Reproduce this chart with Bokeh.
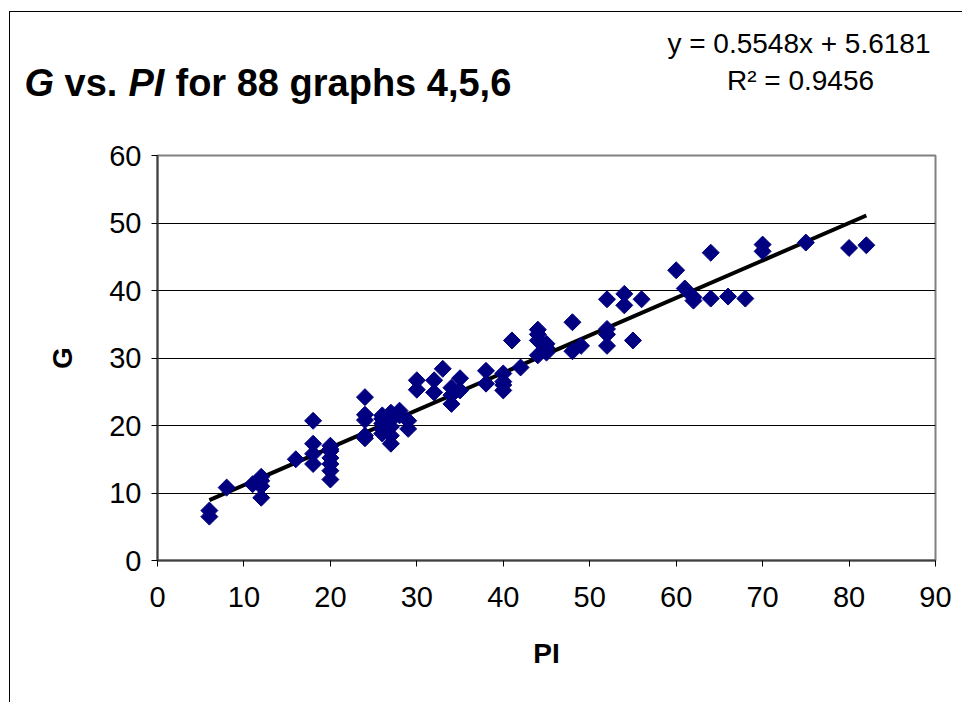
from bokeh.plotting import figure
from bokeh.models import Range1d, FixedTicker, ColumnDataSource
from bokeh.layouts import column, row
from bokeh.core.properties import value
from bokeh.embed import file_html
from bokeh.resources import INLINE
import numpy as np

# ---- data ----
pi_vals = [6, 6, 8, 11, 12, 12, 12, 12, 16,
           18, 18, 18, 18,
           20, 20, 20, 20, 20, 20, 20,
           24, 24, 24, 24, 24,
           26, 26, 26, 26, 26,
           27, 27, 27, 27, 27,
           28, 28, 29, 29,
           30, 30, 32, 32, 33, 34, 34, 34, 35, 35,
           38, 38, 40, 40, 40, 40, 41, 42,
           44, 44, 44, 44, 45, 45, 45,
           48, 48, 49,
           52, 52, 52, 52, 54, 54, 55, 56,
           60, 61, 62, 62, 64, 64, 66, 68,
           70, 70, 75, 80, 82]
g_vals = [7.4, 6.5, 10.8, 11.3, 12.4, 11.8, 11.0, 9.3, 15.0,
          20.7, 17.3, 15.8, 14.3,
          17.0, 16.5, 16.2, 15.2, 14.3, 13.3, 12.0,
          24.2, 21.6, 20.8, 18.5, 18.1,
          21.5, 21.0, 20.3, 19.5, 18.8,
          21.9, 20.8, 19.8, 18.5, 17.3,
          22.2, 21.5, 20.7, 19.5,
          26.7, 25.3, 26.7, 24.9, 28.4, 25.6, 24.5, 23.2, 27.0, 25.2,
          28.1, 26.2, 27.7, 26.5, 26.0, 25.2, 32.6, 28.6,
          34.2, 33.5, 32.6, 30.4, 32.1, 31.5, 30.8,
          35.3, 31.0, 31.8,
          38.7, 34.3, 33.5, 31.8, 39.5, 37.8, 32.6, 38.7,
          43.0, 40.3, 38.5, 39.0, 45.6, 38.8, 39.1, 38.8,
          46.8, 45.8, 47.1, 46.3, 46.7]
slope = 0.5548
intercept = 5.6181
r_squared = 0.9456
title_parts = ["G", "vs.", "PI", "for 88 graphs 4,5,6"]
x_ticks = [0, 10, 20, 30, 40, 50, 60, 70, 80, 90]
y_ticks = [0, 10, 20, 30, 40, 50, 60]

FONT = "Liberation Sans"

# page origin of the chart block is (10, 12)
OX, OY = 10, 12
W = 952
HH = 120           # header height (title + equation)
H = 690 - HH       # plot figure height

# ---------- header with title and regression text ----------
hdr = figure(width=W, height=HH, output_backend="svg", toolbar_location=None,
             x_range=Range1d(OX, OX + W), y_range=Range1d(OY + HH, OY),
             x_axis_type=None, y_axis_type=None)
hdr.min_border_left = 0
hdr.min_border_right = 0
hdr.min_border_top = 0
hdr.min_border_bottom = 0
hdr.outline_line_color = None
hdr.grid.visible = False
hdr.background_fill_color = "white"
hdr.border_fill_color = "white"

def htext(txt, px, py, size, style="normal", align="left"):
    hdr.text(x=[px], y=[py], text=[txt], text_font=value(FONT),
             text_font_style=style, text_font_size=size, text_baseline="middle",
             text_align=align, text_color="black")

title_x = [24, 64, 128, 175]
title_style = ["bold italic", "bold", "bold italic", "bold"]
for txt, px, st in zip(title_parts, title_x, title_style):
    htext(txt, px, 82, "38px", st)

eq = f"y = {slope}x + {intercept}"
r2 = f"R\u00b2 = {r_squared}"
htext(eq, 930, 43, "28px", align="right")
htext(r2, 800, 80, "28px", align="center")

# ---------- main scatter plot ----------
top = OY + HH
p = figure(width=W, height=H, output_backend="svg", toolbar_location=None,
           x_range=Range1d(0, 90), y_range=Range1d(0, 60))
p.min_border_left = 157 - OX
p.min_border_top = 155 - top
p.min_border_right = W - (935 - OX)
p.min_border_bottom = (top + H) - 560

p.outline_line_color = "#808080"
p.outline_line_width = 2
p.background_fill_color = "white"
p.border_fill_color = "white"

p.xgrid.visible = False
p.ygrid.ticker = FixedTicker(ticks=y_ticks[1:-1])
p.ygrid.grid_line_color = "black"
p.ygrid.grid_line_width = 1

for ax in (p.xaxis[0], p.yaxis[0]):
    ax.axis_line_color = "#404040"
    ax.axis_line_width = 2
    ax.major_tick_line_color = "black"
    ax.major_tick_in = 0
    ax.major_tick_out = 6
    ax.minor_tick_line_color = None
    ax.major_label_text_font = FONT
    ax.major_label_text_font_size = "29px"
    ax.major_label_text_color = "black"
    ax.axis_label_text_font = FONT
    ax.axis_label_text_font_size = "28px"
    ax.axis_label_text_font_style = "bold"
    ax.axis_label_text_color = "black"

p.xaxis.ticker = FixedTicker(ticks=x_ticks)
p.yaxis.ticker = FixedTicker(ticks=y_ticks)
p.xaxis.axis_label = "PI"
p.yaxis.axis_label = "G"
p.xaxis.major_label_standoff = 20
p.yaxis.major_label_standoff = 10
p.xaxis.axis_label_standoff = 28
p.yaxis.axis_label_standoff = 28
p.yaxis.major_label_orientation = "horizontal"

# trend line from fitted coefficients over the data's x extent
x_line = np.array([min(pi_vals), max(pi_vals)], dtype=float)
y_line = slope * x_line + intercept
p.line(x_line, y_line, line_color="black", line_width=4)

src = ColumnDataSource(dict(x=pi_vals, y=g_vals))
p.scatter("x", "y", source=src, marker="square", size=12, angle=np.pi / 4,
          fill_color="#000080", line_color="#000080")

layout = column(row(hdr), row(p), spacing=0)
layout.styles = {"margin-left": f"{OX - 1}px", "margin-top": f"{OY - 1}px",
                 "border-left": "1px solid #000", "border-top": "1px solid #000"}

open("out.html", "w").write(file_html(layout, INLINE))
